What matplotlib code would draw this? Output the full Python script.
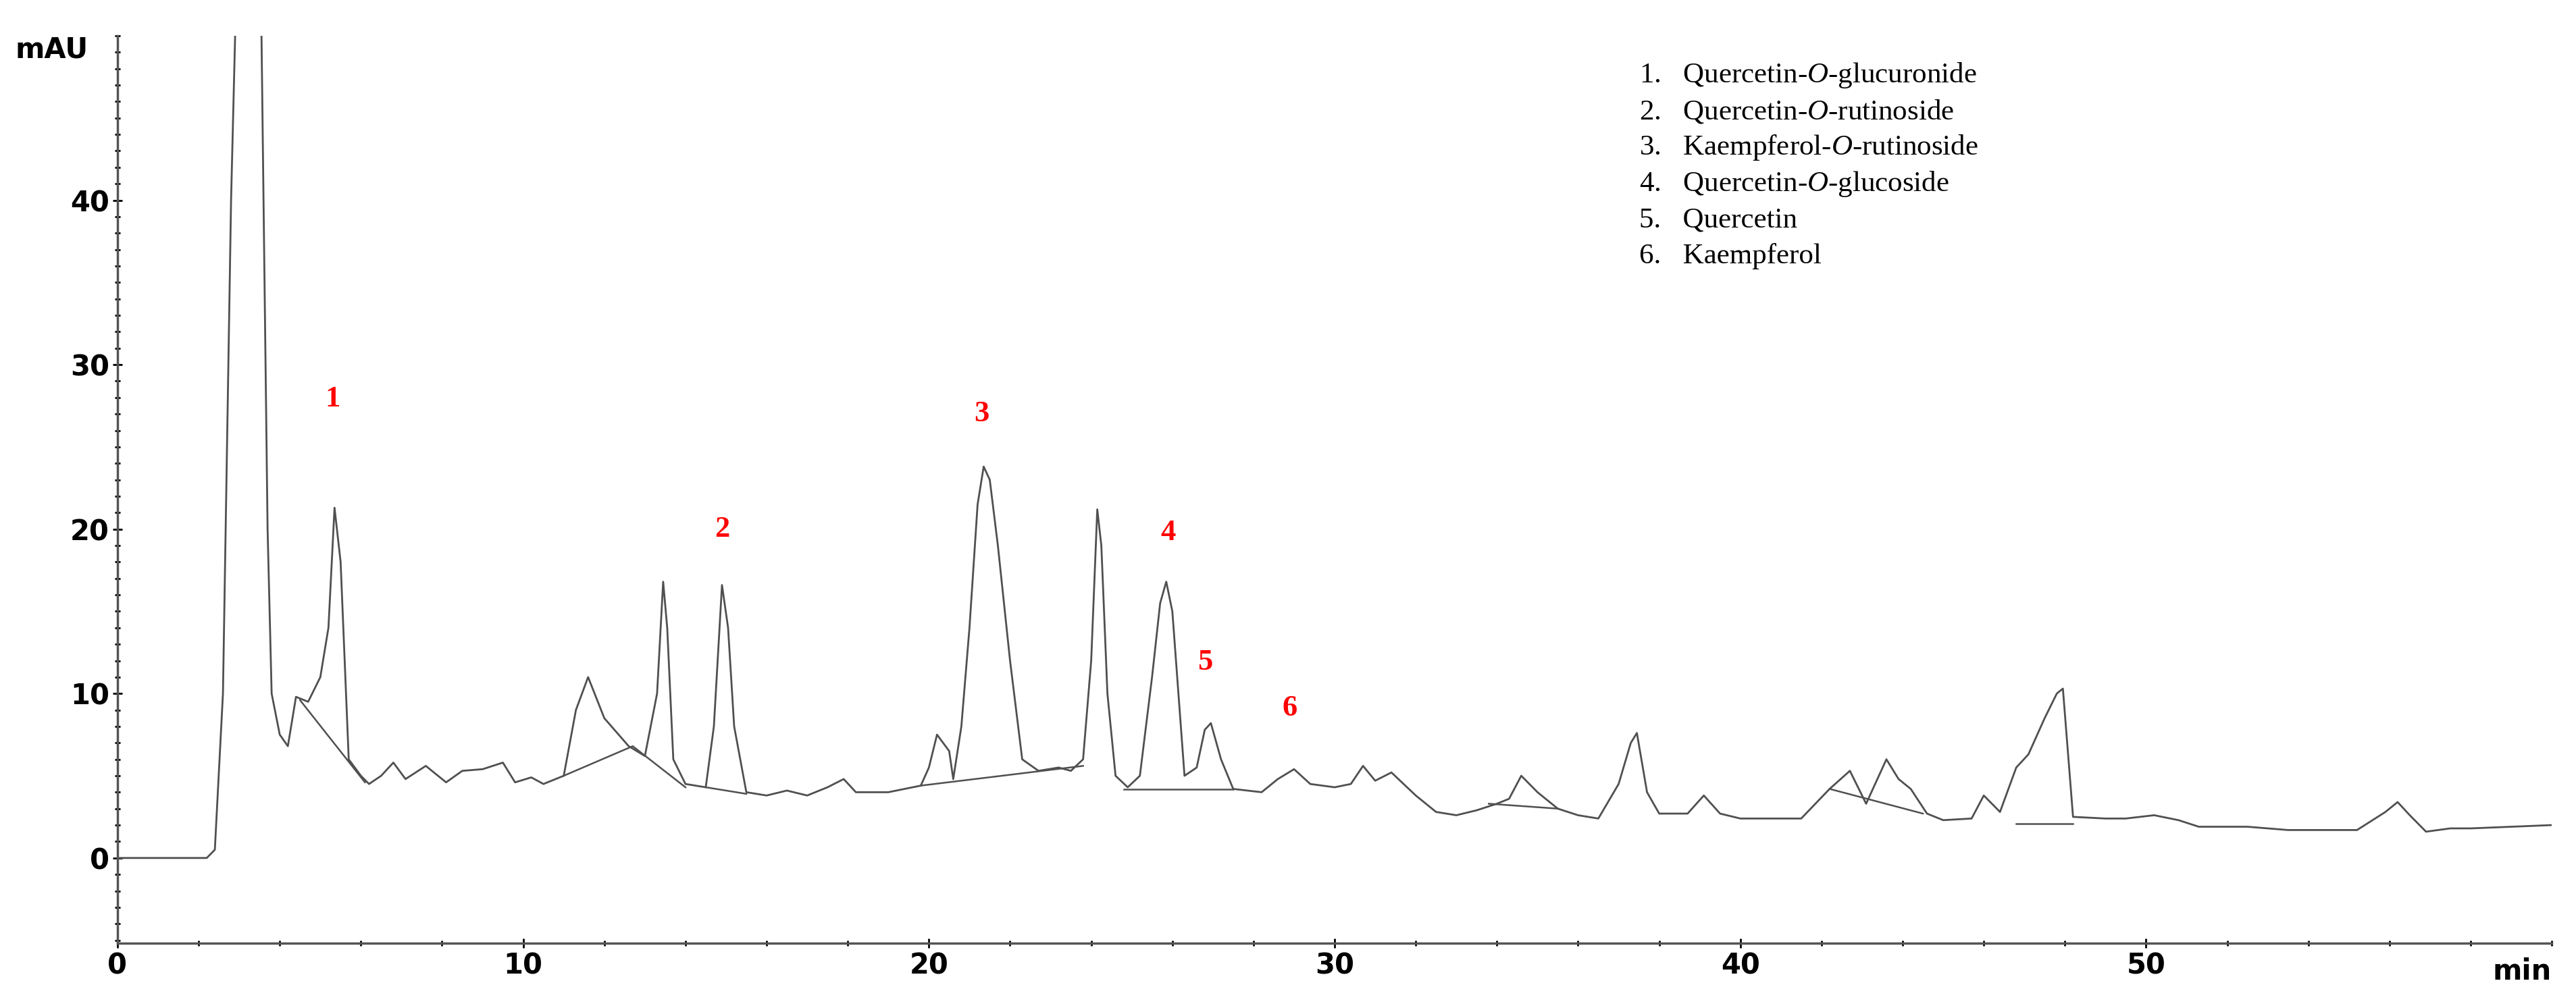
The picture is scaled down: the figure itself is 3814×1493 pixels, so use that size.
import matplotlib
matplotlib.use("Agg")
import matplotlib.pyplot as plt
from matplotlib.ticker import MultipleLocator

plt.rcParams['mathtext.fontset'] = 'custom'
plt.rcParams['mathtext.rm'] = 'Liberation Serif'
plt.rcParams['mathtext.it'] = 'Liberation Serif:italic'

# chromatogram trace (time in min, signal in mAU)
time = [0, 2.2, 2.4, 2.6, 2.8, 2.9, 3.0, 3.5, 3.6, 3.7, 3.8, 4.0, 4.2, 4.4, 4.7, 5.0, 5.2, 5.35,
        5.5, 5.7, 6.0, 6.2, 6.5, 6.8, 7.1, 7.6, 8.1, 8.5, 9.0, 9.5, 9.8, 10.2, 10.5, 11.0, 11.3,
        11.6, 12.0, 12.6, 13.0, 13.3, 13.45, 13.55, 13.7, 14.0, 14.5, 14.7, 14.9, 15.05, 15.2, 15.5,
        16.0, 16.5, 17.0, 17.5, 17.9, 18.2, 19.0, 19.8, 20.0, 20.2, 20.5, 20.6, 20.8, 21.0, 21.2,
        21.35, 21.5, 21.7, 22.0, 22.3, 22.7, 23.2, 23.5, 23.8, 24.0, 24.15, 24.25, 24.4, 24.6, 24.9,
        25.2, 25.5, 25.7, 25.85, 26.0, 26.3, 26.6, 26.8, 26.95, 27.2, 27.5, 28.2, 28.6, 29.0, 29.4,
        30.0, 30.4, 30.7, 31.0, 31.4, 32.0, 32.5, 33.0, 33.5, 34.0, 34.3, 34.6, 35.0, 35.5, 36.0,
        36.5, 37.0, 37.3, 37.45, 37.7, 38.0, 38.7, 39.1, 39.5, 40.0, 41.5, 42.2, 42.7, 43.1, 43.6,
        43.9, 44.2, 44.6, 45.0, 45.7, 46.0, 46.4, 46.8, 47.1, 47.5, 47.8, 47.95, 48.2, 49.0, 49.5,
        50.2, 50.8, 51.3, 52.5, 53.5, 55.2, 55.9, 56.2, 56.5, 56.9, 57.5, 58.0, 59.0, 60.0]
signal = [0, 0, 0.5, 10, 40, 50, 60, 60, 40, 20, 10, 7.5, 6.8, 9.8, 9.5, 11, 14, 21.3,
          18, 6, 5, 4.5, 5, 5.8, 4.8, 5.6, 4.6, 5.3, 5.4, 5.8, 4.6, 4.9, 4.5, 5.0, 9,
          11, 8.5, 6.8, 6.2, 10, 16.8, 14, 6, 4.5, 4.3, 8, 16.6, 14, 8, 4.0,
          3.8, 4.1, 3.8, 4.3, 4.8, 4.0, 4.0, 4.4, 5.5, 7.5, 6.5, 4.8, 8, 14, 21.5,
          23.8, 23, 19, 12, 6, 5.3, 5.5, 5.3, 6, 12, 21.2, 19, 10, 5, 4.3,
          5, 11, 15.5, 16.8, 15, 5, 5.5, 7.8, 8.2, 6, 4.2, 4.0, 4.8, 5.4, 4.5,
          4.3, 4.5, 5.6, 4.7, 5.2, 3.8, 2.8, 2.6, 2.9, 3.3, 3.6, 5.0, 4.0, 3.0, 2.6,
          2.4, 4.5, 7.0, 7.6, 4, 2.7, 2.7, 3.8, 2.7, 2.4, 2.4, 4.2, 5.3, 3.3, 6.0,
          4.8, 4.2, 2.7, 2.3, 2.4, 3.8, 2.8, 5.5, 6.3, 8.5, 10.0, 10.3, 2.5, 2.4, 2.4,
          2.6, 2.3, 1.9, 1.9, 1.7, 1.7, 2.8, 3.4, 2.6, 1.6, 1.8, 1.8, 1.9, 2.0]

# integration baselines drawn under the peaks
base_t = [[4.5, 6.1], [11.0, 12.7, 14.0], [14.5, 15.5], [19.8, 23.8], [24.8, 27.5],
          [33.8, 35.5], [42.2, 44.5], [46.8, 48.2]]
base_y = [[9.6, 4.6], [5.0, 6.8, 4.3], [4.3, 3.9], [4.4, 5.6], [4.2, 4.2],
          [3.3, 3.0], [4.2, 2.7], [2.1, 2.1]]

peak_num = ['1', '2', '3', '4', '5', '6']
peak_t = [5.3, 14.9, 21.3, 25.9, 26.8, 28.9]
peak_y = [27.9, 20.0, 27.0, 19.8, 11.9, 9.1]

compounds = [r"Quercetin-$\it{O}$-glucuronide", r"Quercetin-$\it{O}$-rutinoside",
             r"Kaempferol-$\it{O}$-rutinoside", r"Quercetin-$\it{O}$-glucoside",
             "Quercetin", "Kaempferol"]

fig = plt.figure(figsize=(38.14, 14.93), dpi=100)
ax = fig.add_axes([0.0456, 0.064, 0.945, 0.9005])

ax.plot(time, signal, color='#505050', lw=2.0)
for bt, by in zip(base_t, base_y):
    ax.plot(bt, by, color='#505050', lw=1.8)

for n, t, y in zip(peak_num, peak_t, peak_y):
    ax.text(t, y, n, color='red', fontsize=32, fontweight='bold',
            family='Liberation Serif', ha='center', va='center')

for i, c in enumerate(compounds):
    ax.text(37.5, 47.6 - i * 2.2, f"{i + 1}.   " + c, fontsize=31,
            family='Liberation Serif', va='center', ha='left')

ax.set_xlim(0, 60)
ax.set_ylim(-5.2, 50)
ax.spines['top'].set_visible(False)
ax.spines['right'].set_visible(False)
for s in ['left', 'bottom']:
    ax.spines[s].set_color('#555555')
    ax.spines[s].set_linewidth(2.5)
ax.xaxis.set_minor_locator(MultipleLocator(2))
ax.yaxis.set_minor_locator(MultipleLocator(1))
ax.set_xticks([0, 10, 20, 30, 40, 50])
ax.set_yticks([0, 10, 20, 30, 40])
ax.tick_params(axis='both', which='major', labelsize=30, length=10, width=2, direction='inout')
ax.tick_params(axis='both', which='minor', length=6, width=2, direction='inout')
for lab in ax.get_xticklabels() + ax.get_yticklabels():
    lab.set_fontweight('bold')

ax.text(-0.012, 0.985, 'mAU', transform=ax.transAxes, fontsize=30, fontweight='bold',
        ha='right', va='center')
ax.text(1.0, -0.015, 'min', transform=ax.transAxes, fontsize=30, fontweight='bold',
        ha='right', va='top')

fig.savefig('out.png', dpi=100)
